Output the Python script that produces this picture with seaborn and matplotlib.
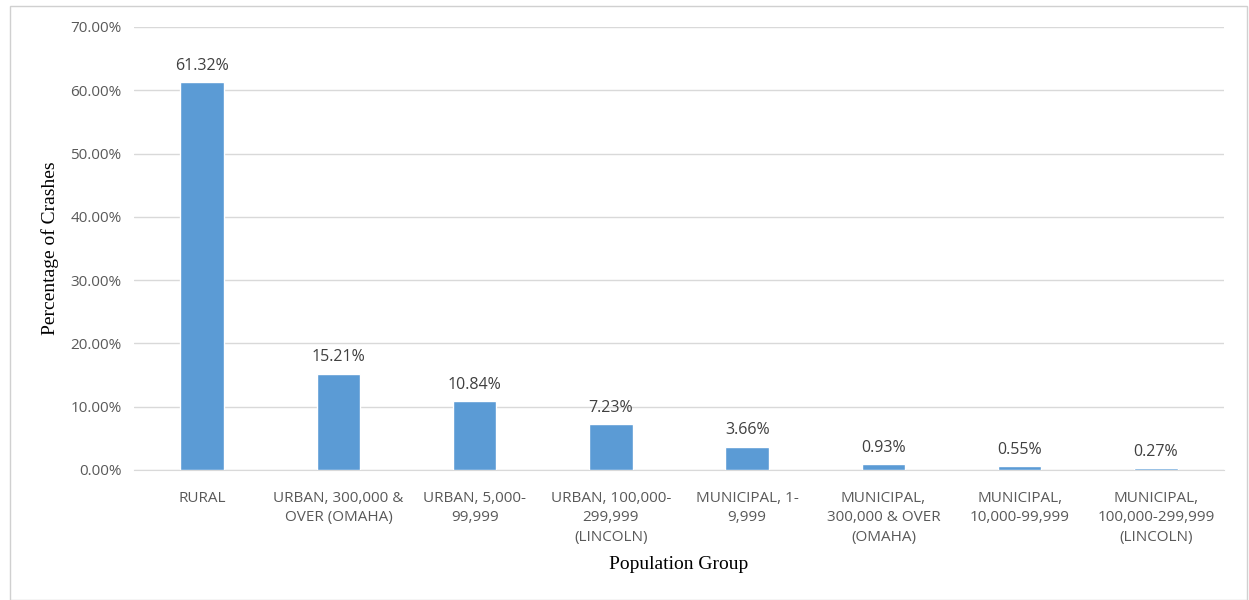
import matplotlib
matplotlib.use('Agg')
import matplotlib.pyplot as plt
import seaborn as sns
import pandas as pd
from matplotlib.patches import Rectangle
from matplotlib.ticker import FuncFormatter

groups = ['RURAL',
          'URBAN, 300,000 &\nOVER (OMAHA)',
          'URBAN, 5,000-\n99,999',
          'URBAN, 100,000-\n299,999\n(LINCOLN)',
          'MUNICIPAL, 1-\n9,999',
          'MUNICIPAL,\n300,000 & OVER\n(OMAHA)',
          'MUNICIPAL,\n10,000-99,999',
          'MUNICIPAL,\n100,000-299,999\n(LINCOLN)']
pct = [61.32, 15.21, 10.84, 7.23, 3.66, 0.93, 0.55, 0.27]

df = pd.DataFrame({'group': groups, 'pct': pct})

sns.set_style('white')
plt.rcParams['font.family'] = ['Open Sans', 'DejaVu Sans']

fig = plt.figure(figsize=(12.49, 6), dpi=100)
ax = fig.add_axes([0.1073, 0.2167, 0.8727, 0.7383])

sns.barplot(data=df, x='group', y='pct', color='#5B9BD5', width=0.32,
            saturation=1, ax=ax, zorder=3)

ax.set_ylim(0, 70)
ax.set_yticks(range(0, 71, 10))
ax.yaxis.set_major_formatter(FuncFormatter(lambda v, p: f'{v:.2f}%'))
ax.grid(axis='y', color='#D9D9D9', lw=1, zorder=0)
for s in ['top', 'right', 'left']:
    ax.spines[s].set_visible(False)
ax.spines['bottom'].set_color('#D9D9D9')
ax.tick_params(axis='both', length=0, labelcolor='#595959')
ax.tick_params(axis='y', pad=9, labelsize=11)
ax.tick_params(axis='x', pad=15, labelsize=11)
for t in ax.get_xticklabels():
    t.set_linespacing(1.4)

ax.bar_label(ax.containers[0], labels=[f'{v:.2f}%' for v in pct],
             padding=6, fontsize=11.5, color='#404040')

ax.set_xlabel('Population Group', family='Liberation Serif', fontsize=14,
              color='#000000', labelpad=8)
ax.set_ylabel('Percentage of Crashes', family='Liberation Serif', fontsize=14,
              color='#000000', labelpad=8)

# worksheet cell edges behind the chart
fig.add_artist(Rectangle((0.008, 0.0), 0.99, 0.99, transform=fig.transFigure,
                         fill=False, ec='#D0D0D0', lw=1))

fig.savefig('out.png', dpi=100)
